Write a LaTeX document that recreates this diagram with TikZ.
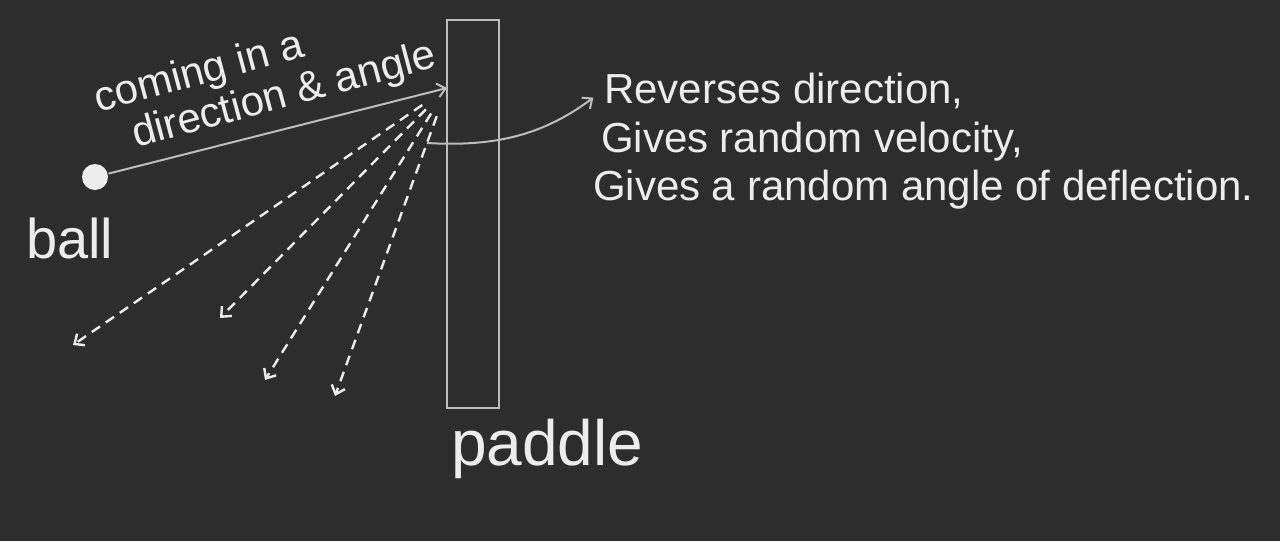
\documentclass[tikz,border=0pt]{standalone}
\usepackage{fontspec}
\setmainfont{Liberation Sans}
\usetikzlibrary{arrows.meta}

\definecolor{board}{HTML}{2D2D2D}
\definecolor{chalk}{HTML}{ECECEC}
\definecolor{dust}{HTML}{BDBDBD}

\begin{document}
\begin{tikzpicture}[x=0.5pt,y=-0.5pt]
        \tikzstyle{every path}=[line width=1pt]

        \edef\sizetext{21pt}
        \tikzstyle{word}=[text=chalk,inner sep=0pt,font=\fontsize{\sizetext}{22pt}\selectfont]
        \tikzstyle{tag}=[text=chalk,inner sep=0pt,anchor=base west]
        \tikzstyle{trail}=[draw=dust,-{Straight Barb[length=4pt,width=7pt]}]
        \tikzstyle{fan}=[draw=chalk,line width=1.2pt,dash pattern=on 5pt off 3.5pt,shorten <=15pt,-{Straight Barb[length=4pt,width=7pt]}]

        % board
        \fill[board] (0,0) rectangle (1280,541);
        \useasboundingbox (0,0) rectangle (1280,541);

        \node[circle,fill=chalk,minimum size=13pt,inner sep=0pt] (ball) at (95,177) {};
        \node[tag,font=\fontsize{28pt}{32pt}\selectfont] (balltag) at (25,258) {ball};

        \node[draw=dust,minimum width=26pt,minimum height=194pt,inner sep=0pt] (paddle) at (473,214) {};
        \node[tag,font=\fontsize{32pt}{36pt}\selectfont] (paddletag) at (450,465) {paddle};

        \coordinate (hit) at (447,88);
        \coordinate (bounce) at (427,143);

        \node[word,align=left,anchor=base west,rotate=15] (come) at (109,155)
            {coming in a\\\hspace*{13.5pt}direction \& angle};

        \node[word,anchor=base west] (rev) at (603,103) {Reverses direction,};
        \node[word,anchor=base west] (vel) at (600,152) {Gives random velocity,};
        \node[word,anchor=base west] (defl) at (592,200) {Gives a random angle of deflection.};

        \draw[trail] (ball) -- (hit);                          % ball -> paddle
        \draw[trail,shorten >=6pt] (bounce) to[bend right=20] (rev.west); % paddle -> effects

        \foreach \i/\x/\y in {1/73/345, 2/220/318, 3/265/380, 4/335/396} {
            \coordinate (out\i) at (\x,\y);
            \draw[fan] (hit) -- (out\i);                       % random bounce
        };

\end{tikzpicture}
\end{document}
